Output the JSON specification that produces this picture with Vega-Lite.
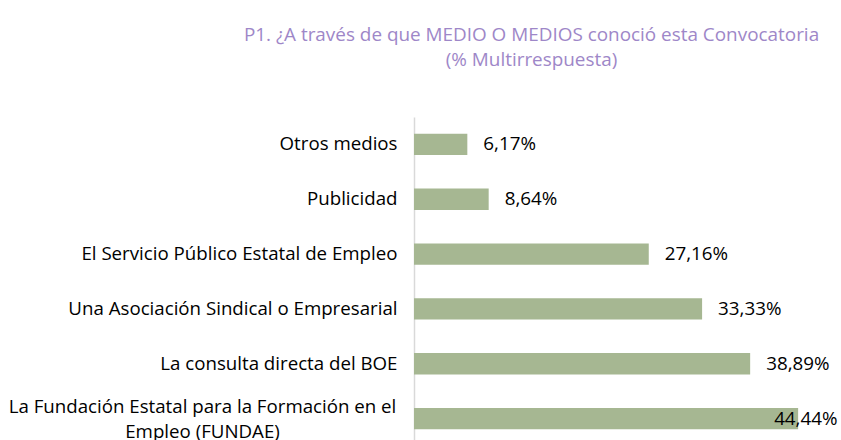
{
  "$schema": "https://vega.github.io/schema/vega-lite/v6.json",
  "autosize": "none",
  "width": 427,
  "height": 329,
  "padding": {"left": 414, "top": 117, "right": 0, "bottom": 0},
  "config": {
    "view": {"stroke": null},
    "font": "Open Sans",
    "locale": {"number": {"decimal": ",", "thousands": ".", "grouping": [3], "currency": ["", " €"]}}
  },
  "title": {
    "text": ["P1. ¿A través de que MEDIO O MEDIOS conoció esta Convocatoria", "(% Multirrespuesta)"],
    "font": "Open Sans",
    "fontSize": 18.9,
    "fontWeight": "normal",
    "color": "#9e87c8",
    "anchor": "middle",
    "frame": "group",
    "dx": -96,
    "offset": 47,
    "lineHeight": 25
  },
  "data": {
    "values": [
      {"medio": "Otros medios", "pct": 0.0617},
      {"medio": "Publicidad", "pct": 0.0864},
      {"medio": "El Servicio Público Estatal de Empleo", "pct": 0.2716},
      {"medio": "Una Asociación Sindical o Empresarial", "pct": 0.3333},
      {"medio": "La consulta directa del BOE", "pct": 0.3889},
      {"medio": "La Fundación Estatal para la Formación en el|Empleo (FUNDAE)", "pct": 0.4444}
    ]
  },
  "encoding": {
    "y": {
      "field": "medio",
      "type": "nominal",
      "sort": null,
      "scale": {"paddingInner": 0.61, "paddingOuter": 0.305},
      "axis": {
        "title": null,
        "ticks": false,
        "domainColor": "#d9d9d9",
        "domainWidth": 1.5,
        "labelFont": "Open Sans",
        "labelFontSize": 18.7,
        "labelColor": "#000000",
        "labelPadding": {"condition": {"test": "indexof(datum.label, '|') >= 0", "value": 212}, "value": 17},
        "labelAlign": {"condition": {"test": "indexof(datum.label, '|') >= 0", "value": "center"}, "value": "right"},
        "labelOffset": {"condition": {"test": "indexof(datum.label, '|') >= 0", "value": -12}, "value": 0},
        "labelLimit": 420,
        "labelLineHeight": 25,
        "labelExpr": "split(datum.label, '|')"
      }
    },
    "x": {
      "field": "pct",
      "type": "quantitative",
      "scale": {"domain": [0, 0.494], "nice": false},
      "axis": null
    }
  },
  "layer": [
    {"mark": {"type": "bar", "color": "#a6b792"}},
    {
      "transform": [{"filter": "datum.pct < 0.44"}],
      "mark": {"type": "text", "align": "left", "dx": 16, "fontSize": 18.8, "font": "Open Sans", "color": "#000000"},
      "encoding": {"text": {"field": "pct", "format": ".2%"}}
    },
    {
      "transform": [{"filter": "datum.pct >= 0.44"}],
      "mark": {"type": "text", "align": "left", "dx": -24, "fontSize": 18.8, "font": "Open Sans", "color": "#000000"},
      "encoding": {"text": {"field": "pct", "format": ".2%"}}
    }
  ]
}
